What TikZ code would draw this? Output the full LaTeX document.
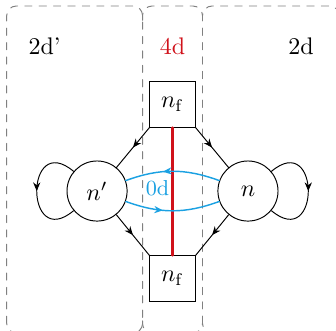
\documentclass[tikz,border=0pt]{standalone}
\usetikzlibrary{arrows.meta,decorations.markings}
\definecolor{cutred}{HTML}{D0121B}
\definecolor{pathblue}{HTML}{1BA1E2}

\tikzset{
	state/.style={draw, circle, minimum size=0.88cm, inner sep=0pt},
	flux/.style={draw, rectangle, minimum size=0.66cm, inner sep=0pt},
	region/.style={draw=gray, dashed, rounded corners},
	midarrow/.style={postaction={decorate},
		decoration={markings, mark=at position #1 with {\arrow{Stealth[length=3.6pt,width=3pt]}}}},
	midarrow/.default=0.5,
}

\begin{document}
\begin{tikzpicture}[line cap=round]
	\useasboundingbox (-2.526,-2.035) rectangle (2.394,2.797);

	% ---- regioni tratteggiate ----
	\draw[region] (-2.428,-2.079) rectangle (-0.439,2.709);
	\draw[region] (0.439,-2.079) rectangle (2.44,2.709);
	% regione centrale: i lati verticali sono gia' disegnati
	\draw[region] (-0.439,2.5) -- (-0.439,2.709) -- (0.439,2.709) -- (0.439,2.5);
	\draw[region] (-0.439,-1.9) -- (-0.439,-2.079) -- (0.439,-2.079) -- (0.439,-1.9);

	% ---- etichette delle regioni ----
	\node (lblL) at (-1.874,2.113) {2d'};
	\node[text=cutred] (lblM) at (0,2.113) {4d};
	\node (lblR) at (1.881,2.113) {2d};

	% ---- nodi ----
	\node[flux] (ftop) at (0,1.267) {$n_\mathrm{f}$};
	\node[flux] (fbot) at (0,-1.281) {$n_\mathrm{f}$};
	\node[state] (np) at (-1.105,0) {$n'$};
	\node[state] (n) at (1.105,0) {$n$};

	% ---- taglio (linea rossa) ----
	\draw[cutred, line width=0.9pt] (ftop) -- (fbot);

	% ---- frecce verso/da n_f ----
	\draw[midarrow] (ftop.south west) -- (np);
	\draw[midarrow] (ftop.south east) -- (n);
	\draw[midarrow] (np) -- (fbot.north west);
	\draw[midarrow] (n) -- (fbot.north east);

	% ---- anelli ----
	\draw[midarrow] (np) to[out=140, in=220, looseness=4.2] (np);
	\draw[midarrow] (n) to[out=40, in=-40, looseness=4.2] (n);

	% ---- cammini "0d" ----
	\draw[pathblue, semithick, midarrow=0.6] (n.160) to[out=160, in=20] (np.20);
	\draw[pathblue, semithick, midarrow=0.4] (np.-20) to[out=-20, in=200] (n.200);
	\node[text=pathblue, font=\small] (zerod) at (-0.22,0.04) {0d};

\end{tikzpicture}
\end{document}
